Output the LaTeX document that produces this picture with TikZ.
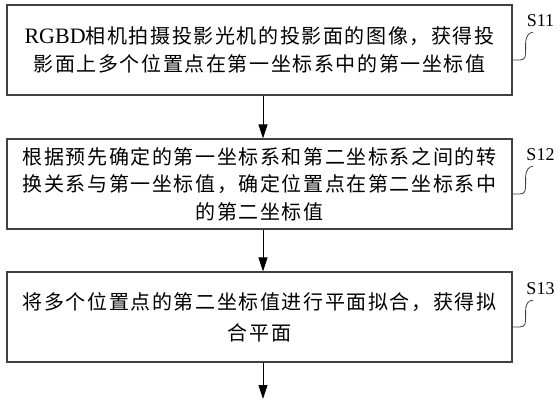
\documentclass[tikz,border=0pt]{standalone}
\usepackage{fontspec}
\setmainfont{Liberation Serif}
\newfontfamily\cjk[LetterSpace=8]{Noto Sans CJK SC}
\usetikzlibrary{arrows.meta}
\definecolor{boxline}{HTML}{404040}

\begin{document}
\begin{tikzpicture}[x=1pt, y=-1pt,
    stepbox/.style={draw=boxline, line width=1.2pt, minimum width=505pt, minimum height=90pt,
        inner sep=0pt, align=center, font=\cjk\fontsize{20}{27.5}\selectfont},
    flow/.style={-{Triangle[length=14pt,width=9pt]}, line width=1pt},
    steplabel/.style={font=\fontsize{18}{18}\selectfont, inner sep=1pt},
    squiggle/.style={boxline, line width=0.8pt}]
            \useasboundingbox (0,0) rectangle (560,400);

            % Step boxes
            \node[stepbox] (b1) at (259.5,50)
                {{\rmfamily\fontsize{22}{27.5}\selectfont RGBD}相机拍摄投影光机的投影面的图像，获得投\\
                 影面上多个位置点在第一坐标系中的第一坐标值};
            \node[stepbox] (b2) at (259.5,184)
                {根据预先确定的第一坐标系和第二坐标系之间的转\\
                 换关系与第一坐标值，确定位置点在第二坐标系中\\
                 的第二坐标值};
            \node[stepbox, font=\cjk\fontsize{20}{31}\selectfont] (b3) at (259.5,317)
                {将多个位置点的第二坐标值进行平面拟合，获得拟\\
                 合平面};

            % Step labels
            \node[steplabel] (l1) at (540.5,21) {S11};
            \node[steplabel] (l2) at (540.5,155) {S12};
            \node[steplabel] (l3) at (540.5,289) {S13};

            % Arrows between steps
            \coordinate (bottom) at (263,399);
            \draw[flow] ([xshift=3.5pt]b1.south) -- ([xshift=3.5pt]b2.north);
            \draw[flow] ([xshift=3.5pt]b2.south) -- ([xshift=3.5pt]b3.north);
            \draw[flow] ([xshift=3.5pt]b3.south) -- (bottom);

            % Leader lines to labels
            \foreach \i in {1,2,3}
                \draw[squiggle] ([yshift=-10pt]b\i.east) -- ++(7,0)
                    .. controls +(6,0) and +(0,6) .. ++(6,-10) -- ++(0,-6)
                    .. controls +(0,-8) and +(-4,0) .. ([xshift=-7.5pt,yshift=-4pt]l\i.south);
\end{tikzpicture}
\end{document}
